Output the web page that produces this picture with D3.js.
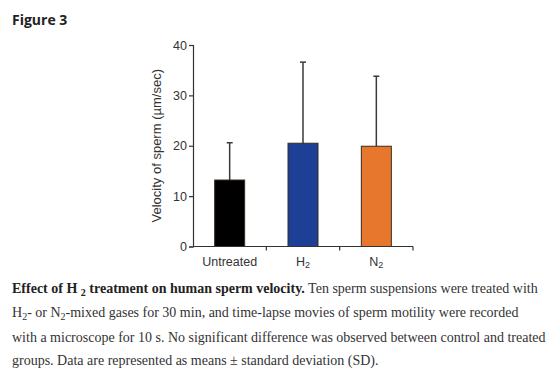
<!DOCTYPE html>
<html>
<head>
<meta charset="utf-8">
<script src="https://cdn.jsdelivr.net/npm/d3@7"></script>
<style>
  body { margin: 0; background: #fff; }
  #fig { position: relative; width: 554px; height: 370px; overflow: hidden; }
  .title { position: absolute; left: 12px; top: 10px; font: 700 14px "Open Sans", sans-serif; color: #222; }
  .caption { position: absolute; left: 12px; top: 277px; width: 545px; font: 14px "Liberation Serif", serif; line-height: 23.3px; color: #333; white-space: nowrap; }
  .caption b { color: #222; }
  .sb { position: relative; top: 3px; font-size: 10px; }
</style>
</head>
<body>
<div id="fig">
  <div class="title">Figure 3</div>
  <svg id="chart" width="554" height="275" style="position:absolute;left:0;top:0"></svg>
  <div class="caption"><b>Effect of H <span class="sb">2</span> treatment on human sperm velocity.</b> Ten sperm suspensions were treated with<br>H<span class="sb">2</span>- or N<span class="sb">2</span>-mixed gases for 30 min, and time-lapse movies of sperm motility were recorded<br>with a microscope for 10 s. No significant difference was observed between control and treated<br>groups. Data are represented as means ± standard deviation (SD).</div>
</div>
<script>
const groups = ["Untreated", "H2", "N2"];
const means = [13.2, 20.5, 19.9];
const sds = [7.4, 16.1, 13.9];
const colors = ["#000000", "#1d3f96", "#e8772e"];
const yTicks = [0, 10, 20, 30, 40];

const svg = d3.select("#chart");
const x0 = 193, x1 = 413, yTop = 45, yBot = 246.5;

const x = d3.scaleBand().domain(groups).range([x0, x1]);
const y = d3.scaleLinear().domain([0, 40]).range([yBot, yTop]);
const barW = 30;

// error bars first, bars cover the lower half
svg.append("g").selectAll("line")
  .data(groups)
  .enter().append("line")
  .attr("x1", d => x(d) + x.bandwidth() / 2)
  .attr("x2", d => x(d) + x.bandwidth() / 2)
  .attr("y1", (d, i) => y(means[i]))
  .attr("y2", (d, i) => y(means[i] + sds[i]))
  .attr("stroke", "#3a3a3a").attr("stroke-width", 1.5);

svg.append("g").selectAll("line")
  .data(groups)
  .enter().append("line")
  .attr("x1", d => x(d) + x.bandwidth() / 2 - 3)
  .attr("x2", d => x(d) + x.bandwidth() / 2 + 3)
  .attr("y1", (d, i) => y(means[i] + sds[i]))
  .attr("y2", (d, i) => y(means[i] + sds[i]))
  .attr("stroke", "#3a3a3a").attr("stroke-width", 1.5);

svg.append("g").selectAll("rect")
  .data(groups)
  .enter().append("rect")
  .attr("x", d => x(d) + x.bandwidth() / 2 - barW / 2)
  .attr("width", barW)
  .attr("y", (d, i) => y(means[i]))
  .attr("height", (d, i) => yBot - y(means[i]))
  .attr("fill", (d, i) => colors[i])
  .attr("stroke", "#3a2a20").attr("stroke-width", 1);

// y axis
const yAxis = svg.append("g")
  .attr("transform", `translate(${x0},0)`)
  .call(d3.axisLeft(y).tickValues(yTicks).tickSize(4).tickPadding(2));
yAxis.select(".domain").attr("stroke", "#333").attr("stroke-width", 1.2);
yAxis.selectAll(".tick line").attr("stroke", "#333").attr("stroke-width", 1.2);
yAxis.selectAll("text").attr("font-family", "Liberation Sans, Arial").attr("font-size", 12.5).attr("fill", "#333");

// x axis with ticks at band boundaries
svg.append("line").attr("x1", x0).attr("x2", x1).attr("y1", yBot).attr("y2", yBot)
  .attr("stroke", "#333").attr("stroke-width", 1.2);
svg.append("g").selectAll("line")
  .data(groups)
  .enter().append("line")
  .attr("x1", d => x(d) + x.bandwidth())
  .attr("x2", d => x(d) + x.bandwidth())
  .attr("y1", yBot).attr("y2", yBot + 4)
  .attr("stroke", "#333").attr("stroke-width", 1.2);

const lab = svg.append("g").selectAll("text")
  .data(groups)
  .enter().append("text")
  .attr("x", d => x(d) + x.bandwidth() / 2)
  .attr("y", yBot + 19)
  .attr("text-anchor", "middle")
  .attr("font-family", "Liberation Sans, Arial").attr("font-size", 12.5).attr("fill", "#333");
lab.each(function(d) {
  const t = d3.select(this);
  if (d === "Untreated") { t.text(d); return; }
  t.append("tspan").text(d[0]);
  t.append("tspan").attr("font-size", 9).attr("dy", 2).text(d[1]);
});

svg.append("text")
  .attr("transform", `translate(161,${(yTop + yBot) / 2}) rotate(-90)`)
  .attr("text-anchor", "middle")
  .attr("font-family", "Liberation Sans, Arial").attr("font-size", 13).attr("fill", "#333")
  .text("Velocity of sperm (µm/sec)");
</script>
</body>
</html>
